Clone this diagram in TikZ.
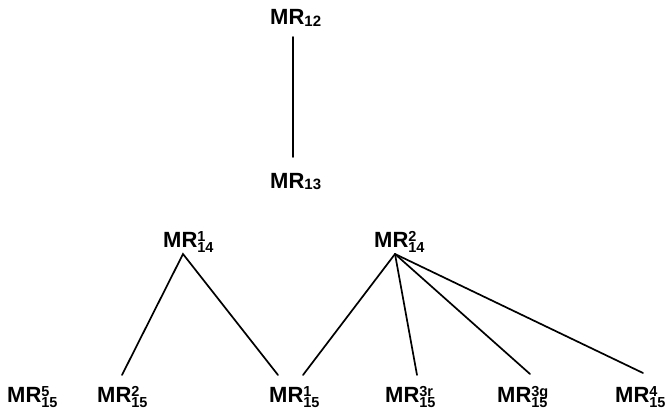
\documentclass[tikz,border=0pt]{standalone}
\usepackage{fontspec}
\setmainfont{Liberation Sans}
\usetikzlibrary{calc}
\newcommand{\mrsub}[1]{MR{\fontsize{15}{15}\selectfont\raisebox{-1.5pt}{#1}}}
\newcommand{\mrss}[2]{MR{\fontsize{14.5}{14.5}\selectfont\makebox[0pt][l]{\raisebox{5.5pt}{#1}}\raisebox{-5pt}{#2}}}
\tikzset{
  lab/.style={inner sep=0pt, anchor=base west, font=\fontsize{22}{22}\selectfont\bfseries},
  edge/.style={line width=1.7pt, line cap=round}
}
\begin{document}
\begin{tikzpicture}[x=1pt,y=-1pt]
\useasboundingbox[fill=white] (0,0) rectangle (668,414);
\node[lab] (n12) at (270,25) {\mrsub{12}};
\node[lab] (n13) at (270,188) {\mrsub{13}};
\node[lab] (n14a) at (163,247) {\mrss{1}{14}};
\node[lab] (n14b) at (374,247) {\mrss{2}{14}};
\node[lab] (n15e5) at (7,402) {\mrss{5}{15}};
\node[lab] (n15b) at (97,402) {\mrss{2}{15}};
\node[lab] (n15c) at (269,402) {\mrss{1}{15}};
\node[lab] (n15d) at (385,402) {\mrss{3r}{15}};
\node[lab] (n15e) at (497,402) {\mrss{3g}{15}};
\node[lab] (n15f) at (615,402) {\mrss{4}{15}};
\draw[edge] ($(n12.base west)+(23,12)$) -- ($(n13.base west)+(23,-31)$);
\draw[edge] ($(n15b.base west)+(25,-27)$) -- ($(n14a.base west)+(20,7)$) -- ($(n15c.base west)+(9,-27)$);
\draw[edge] ($(n14b.base west)+(21,7)$) -- ($(n15c.base west)+(34,-27)$);
\draw[edge] ($(n14b.base west)+(21,7)$) -- ($(n15d.base west)+(32,-27)$);
\draw[edge] ($(n14b.base west)+(21,7)$) -- ($(n15e.base west)+(33,-28)$);
\draw[edge] ($(n14b.base west)+(21,7)$) -- ($(n15f.base west)+(28,-29)$);
\end{tikzpicture}
\end{document}
